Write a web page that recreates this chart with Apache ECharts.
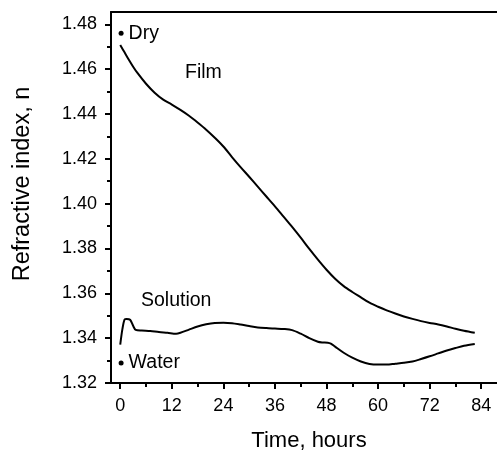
<!DOCTYPE html>
<html>
<head>
<meta charset="utf-8">
<script src="https://cdn.jsdelivr.net/npm/echarts@6/dist/echarts.min.js"></script>
<style>html,body{margin:0;padding:0;background:#fff;}#c{width:497px;height:454px;}</style>
</head>
<body>
<div id="c"></div>
<script>
// Data
var xTicks = [0, 12, 24, 36, 48, 60, 72, 84];
var xMinorTicks = [6, 18, 30, 42, 54, 66, 78, 90];
var yTicks = [1.32, 1.34, 1.36, 1.38, 1.40, 1.42, 1.44, 1.46, 1.48];
var yMinorTicks = [1.33, 1.35, 1.37, 1.39, 1.41, 1.43, 1.45, 1.47];

var filmTime = [0, 1, 2, 3, 4, 6, 8, 10, 12, 14, 16, 18, 20, 22, 24, 26, 28, 30, 32, 34, 36, 38, 40, 42, 44, 46, 48, 50, 52, 54, 56, 58, 60, 62, 64, 66, 68, 70, 72, 74, 76, 78, 80, 82.5];
var filmN = [1.4708, 1.4675, 1.4642, 1.4611, 1.4583, 1.4535, 1.4495, 1.4464, 1.4442, 1.4418, 1.4392, 1.4362, 1.4330, 1.4294, 1.4255, 1.4208, 1.4163, 1.4120, 1.4076, 1.4032, 1.3988, 1.3942, 1.3896, 1.3848, 1.3798, 1.3750, 1.3705, 1.3665, 1.3632, 1.3606, 1.3582, 1.3558, 1.3540, 1.3524, 1.3510, 1.3497, 1.3486, 1.3476, 1.3468, 1.3461, 1.3452, 1.3442, 1.3433, 1.3424];

var solTime = [0, 0.5, 1, 1.5, 2.3, 3.0, 3.6, 5, 7, 9, 11, 13, 14, 16, 18, 20, 22, 24, 26, 28, 30, 32, 34, 36, 38, 40, 42, 44, 46, 47, 48.3, 49, 50, 52, 54, 56, 58, 60, 62, 64, 66, 68, 70, 72, 74, 76, 78, 80, 82.5];
var solN = [1.3371, 1.3440, 1.3483, 1.3486, 1.3482, 1.3455, 1.3437, 1.3434, 1.3432, 1.3427, 1.3424, 1.3420, 1.3424, 1.3438, 1.3452, 1.3462, 1.3468, 1.3469, 1.3467, 1.3461, 1.3454, 1.3448, 1.3445, 1.3443, 1.3441, 1.3436, 1.3420, 1.3400, 1.3384, 1.3381, 1.3380, 1.3376, 1.3362, 1.3335, 1.3313, 1.3296, 1.3285, 1.3282, 1.3282, 1.3286, 1.3290, 1.3296, 1.3307, 1.3319, 1.3332, 1.3345, 1.3356, 1.3366, 1.3374];

var refPoints = [
  {name: 'Dry', t: 0.2, n: 1.4760},
  {name: 'Water', t: 0.2, n: 1.3289}
];

function zip(a, b) { return a.map(function (v, i) { return [v, b[i]]; }); }

var FONT = 'Liberation Sans, Arial, sans-serif';
var X_MIN = -2.15, X_MAX = 90, Y_MIN = 1.32, Y_MAX = 1.4855;

var chart = echarts.init(document.getElementById('c'));
chart.setOption({
  animation: false,
  backgroundColor: '#fff',
  grid: {left: 111, top: 12, width: 396, height: 371, containLabel: false, outerBoundsMode: 'none'},
  xAxis: [
    {type: 'value', min: X_MIN, max: X_MAX, position: 'bottom',
     axisLine: {onZero: false, lineStyle: {color: '#000', width: 2}},
     axisTick: {show: true, length: 6, lineStyle: {color: '#000', width: 2}, customValues: xTicks},
     axisLabel: {color: '#000', fontSize: 18, fontFamily: FONT, margin: 14, customValues: xTicks},
     splitLine: {show: false},
     name: 'Time, hours', nameLocation: 'middle', nameGap: 47,
     nameTextStyle: {color: '#000', fontSize: 22, fontFamily: FONT}},
    {type: 'value', min: X_MIN, max: X_MAX, position: 'bottom',
     axisLine: {show: false, onZero: false},
     axisTick: {show: true, length: 4, lineStyle: {color: '#000', width: 2}, customValues: xMinorTicks},
     axisLabel: {show: false}, splitLine: {show: false}},
    {type: 'value', min: X_MIN, max: X_MAX, position: 'top',
     axisLine: {show: true, onZero: false, lineStyle: {color: '#000', width: 2}},
     axisTick: {show: false}, axisLabel: {show: false}, splitLine: {show: false}}
  ],
  yAxis: [
    {type: 'value', min: Y_MIN, max: Y_MAX, position: 'left',
     axisLine: {show: true, onZero: false, lineStyle: {color: '#000', width: 2}},
     axisTick: {show: true, length: 6, lineStyle: {color: '#000', width: 2}, customValues: yTicks},
     axisLabel: {color: '#000', fontSize: 18, fontFamily: FONT, margin: 14, customValues: yTicks,
       formatter: function (v) { return v.toFixed(2); }},
     splitLine: {show: false}},
    {type: 'value', min: Y_MIN, max: Y_MAX, position: 'left',
     axisLine: {show: false, onZero: false},
     axisTick: {show: true, length: 4, lineStyle: {color: '#000', width: 2}, customValues: yMinorTicks},
     axisLabel: {show: false}, splitLine: {show: false}}
  ],
  graphic: [
    {type: 'text', x: 23, y: 184, rotation: Math.PI / 2,
     style: {text: 'Refractive index, n', fill: '#000', font: '23.5px ' + FONT, textAlign: 'center', textVerticalAlign: 'middle'}},
    {type: 'text', x: 185, y: 73,
     style: {text: 'Film', fill: '#000', font: '19.5px ' + FONT, textAlign: 'left', textVerticalAlign: 'middle'}},
    {type: 'text', x: 141, y: 301,
     style: {text: 'Solution', fill: '#000', font: '19.5px ' + FONT, textAlign: 'left', textVerticalAlign: 'middle'}}
  ],
  series: [
    {type: 'line', name: 'Film', data: zip(filmTime, filmN), smooth: 0.3, showSymbol: false,
     lineStyle: {color: '#000', width: 2}},
    {type: 'line', name: 'Solution', data: zip(solTime, solN), smooth: 0.3, showSymbol: false,
     lineStyle: {color: '#000', width: 2}},
    {type: 'scatter', data: refPoints.map(function (p) { return {name: p.name, value: [p.t, p.n]}; }),
     symbolSize: 5, itemStyle: {color: '#000', opacity: 1},
     label: {show: true, position: 'right', distance: 5, formatter: '{b}', color: '#000', opacity: 1, fontSize: 19.5, fontFamily: FONT}}
  ]
});
</script>
</body>
</html>
